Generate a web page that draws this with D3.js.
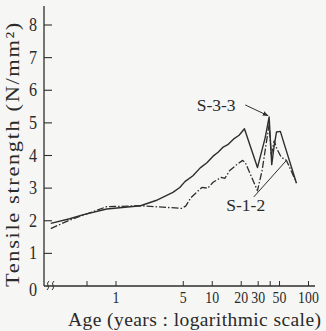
<!DOCTYPE html>
<html lang="en">
<head>
    <meta charset="UTF-8">
    <script src="https://d3js.org/d3.v7.min.js"></script>
    <title>Tensile strength vs age</title>
    <style>
        body { margin: 0; background: #f6f6f4; }
        text { font-family: "Liberation Serif", "DejaVu Serif", serif; fill: #2a2a2a; }
    </style>
    <script>
        // age in years, tensile strength in N/mm2
        const s33Age = [0.21, 0.33, 0.45, 0.8, 1.8, 2.6, 3.9, 4.6, 5.2, 6.3, 7.5, 8.8, 10.2, 11.5, 13, 14.5, 16.6, 19, 21.6, 29.5, 35.5, 39, 41.5, 44, 46.5, 51, 56, 75];
        const s33Val = [1.92, 2.06, 2.18, 2.36, 2.46, 2.62, 2.87, 3.02, 3.2, 3.38, 3.62, 3.78, 3.98, 4.1, 4.26, 4.33, 4.5, 4.62, 4.82, 3.63, 4.55, 5.18, 3.72, 4.3, 4.72, 4.74, 4.35, 3.15];

        const s12Age = [0.21, 0.33, 0.8, 1.8, 4.8, 5.3, 6, 7.8, 9, 10.2, 12.4, 13.5, 15.2, 18.3, 20.7, 22, 29.5, 33, 36.5, 39, 41, 44, 47, 52, 59, 75];
        const s12Val = [1.76, 2.02, 2.43, 2.46, 2.38, 2.45, 2.71, 3.02, 3.0, 3.18, 3.33, 3.3, 3.54, 3.74, 3.85, 3.79, 2.92, 3.55, 4.4, 4.95, 4.0, 4.45, 4.2, 3.95, 3.85, 3.17];

        const yTicks = [0, 1, 2, 3, 4, 5, 6, 7, 8];
        const xTicks = [0.5, 1, 5, 10, 20, 30, 40, 50, 100];
        const xLabels = [1, 5, 10, 20, 30, 50, 100];
    </script>
</head>
<body>
    <div id="chart"></div>
    <script>
        const W = 326, H = 331;
        const svg = d3.select("#chart").append("svg")
            .attr("width", W).attr("height", H);

        const x = d3.scaleLog().domain([1, 100]).range([116, 308.5]);
        const y = d3.scaleLinear().domain([0, 8]).range([286, 25]);
        const x0 = 44, x1 = 315;

        const ink = "#2e2e2e";

        // axes lines
        svg.append("line").attr("x1", x0).attr("x2", x0).attr("y1", 6).attr("y2", y(0))
            .attr("stroke", ink).attr("stroke-width", 1.3);
        svg.append("line").attr("x1", x0).attr("x2", x1).attr("y1", y(0)).attr("y2", y(0))
            .attr("stroke", ink).attr("stroke-width", 1.3);

        // y ticks (inside)
        svg.selectAll(".yt").data(yTicks.slice(1)).enter().append("line")
            .attr("x1", x0).attr("x2", x0 + 8)
            .attr("y1", d => y(d)).attr("y2", d => y(d))
            .attr("stroke", ink).attr("stroke-width", 1.1);
        svg.selectAll(".yl").data(yTicks).enter().append("text")
            .attr("transform", d => `translate(37,${y(d) + (d === 0 ? 10 : 6)}) scale(0.85,1)`)
            .attr("text-anchor", "end").attr("font-size", 19)
            .text(d => d);

        // x ticks (inside)
        svg.selectAll(".xt").data(xTicks).enter().append("line")
            .attr("x1", d => x(d)).attr("x2", d => x(d))
            .attr("y1", y(0)).attr("y2", y(0) - 5)
            .attr("stroke", ink).attr("stroke-width", 1);
        svg.selectAll(".xl").data(xLabels).enter().append("text")
            .attr("transform", d => `translate(${x(d)},303) scale(0.84,1)`)
            .attr("text-anchor", "middle").attr("font-size", 16.5)
            .text(d => d);

        // axis break marks near origin
        [48, 53].forEach(bx => {
            svg.append("path")
                .attr("d", `M${bx - 1},${y(0) + 4} q2.5,-2 1,-4.5 q-1.5,-2.5 1,-4.5`)
                .attr("fill", "none").attr("stroke", ink).attr("stroke-width", 1);
        });

        // titles
        svg.append("text")
            .attr("transform", `translate(19,287) rotate(-90) scale(1.18,1)`)
            .attr("text-anchor", "start").attr("font-size", 19)
            .attr("textLength", 224).attr("lengthAdjust", "spacing")
            .text("Tensile strength (N/mm²)");
        svg.append("text")
            .attr("x", 68).attr("y", 326)
            .attr("text-anchor", "start").attr("font-size", 19.5)
            .attr("textLength", 253).attr("lengthAdjust", "spacing")
            .text("Age (years : logarithmic scale)");

        // series
        const line = d3.line()
            .x(d => x(d[0]))
            .y(d => y(d[1]));

        svg.append("path")
            .datum(d3.zip(s33Age, s33Val))
            .attr("fill", "none").attr("stroke", ink).attr("stroke-width", 1.4)
            .attr("stroke-linejoin", "round")
            .attr("d", line);

        svg.append("path")
            .datum(d3.zip(s12Age, s12Val))
            .attr("fill", "none").attr("stroke", ink).attr("stroke-width", 1.3)
            .attr("stroke-dasharray", "7,2,1.5,2")
            .attr("stroke-linejoin", "round")
            .attr("d", line);

        // labels with pointers
        svg.append("defs").append("marker")
            .attr("id", "arr").attr("viewBox", "0 0 10 10")
            .attr("refX", 9).attr("refY", 5)
            .attr("markerWidth", 6).attr("markerHeight", 6)
            .attr("orient", "auto")
            .append("path").attr("d", "M0,1 L10,5 L0,9 z").attr("fill", ink);

        svg.append("text").attr("x", x(6.9)).attr("y", y(5.36))
            .attr("font-size", 17.5).text("S-3-3");
        svg.append("line")
            .attr("x1", x(22)).attr("y1", y(5.55))
            .attr("x2", x(38)).attr("y2", y(5.22))
            .attr("stroke", ink).attr("stroke-width", 1)
            .attr("marker-end", "url(#arr)");

        svg.append("text").attr("x", x(14)).attr("y", y(2.3))
            .attr("font-size", 17.5).text("S-1-2");
        svg.append("line")
            .attr("x1", x(27)).attr("y1", y(2.73))
            .attr("x2", x(59)).attr("y2", y(3.85))
            .attr("stroke", ink).attr("stroke-width", 1);
    </script>
</body>
</html>
